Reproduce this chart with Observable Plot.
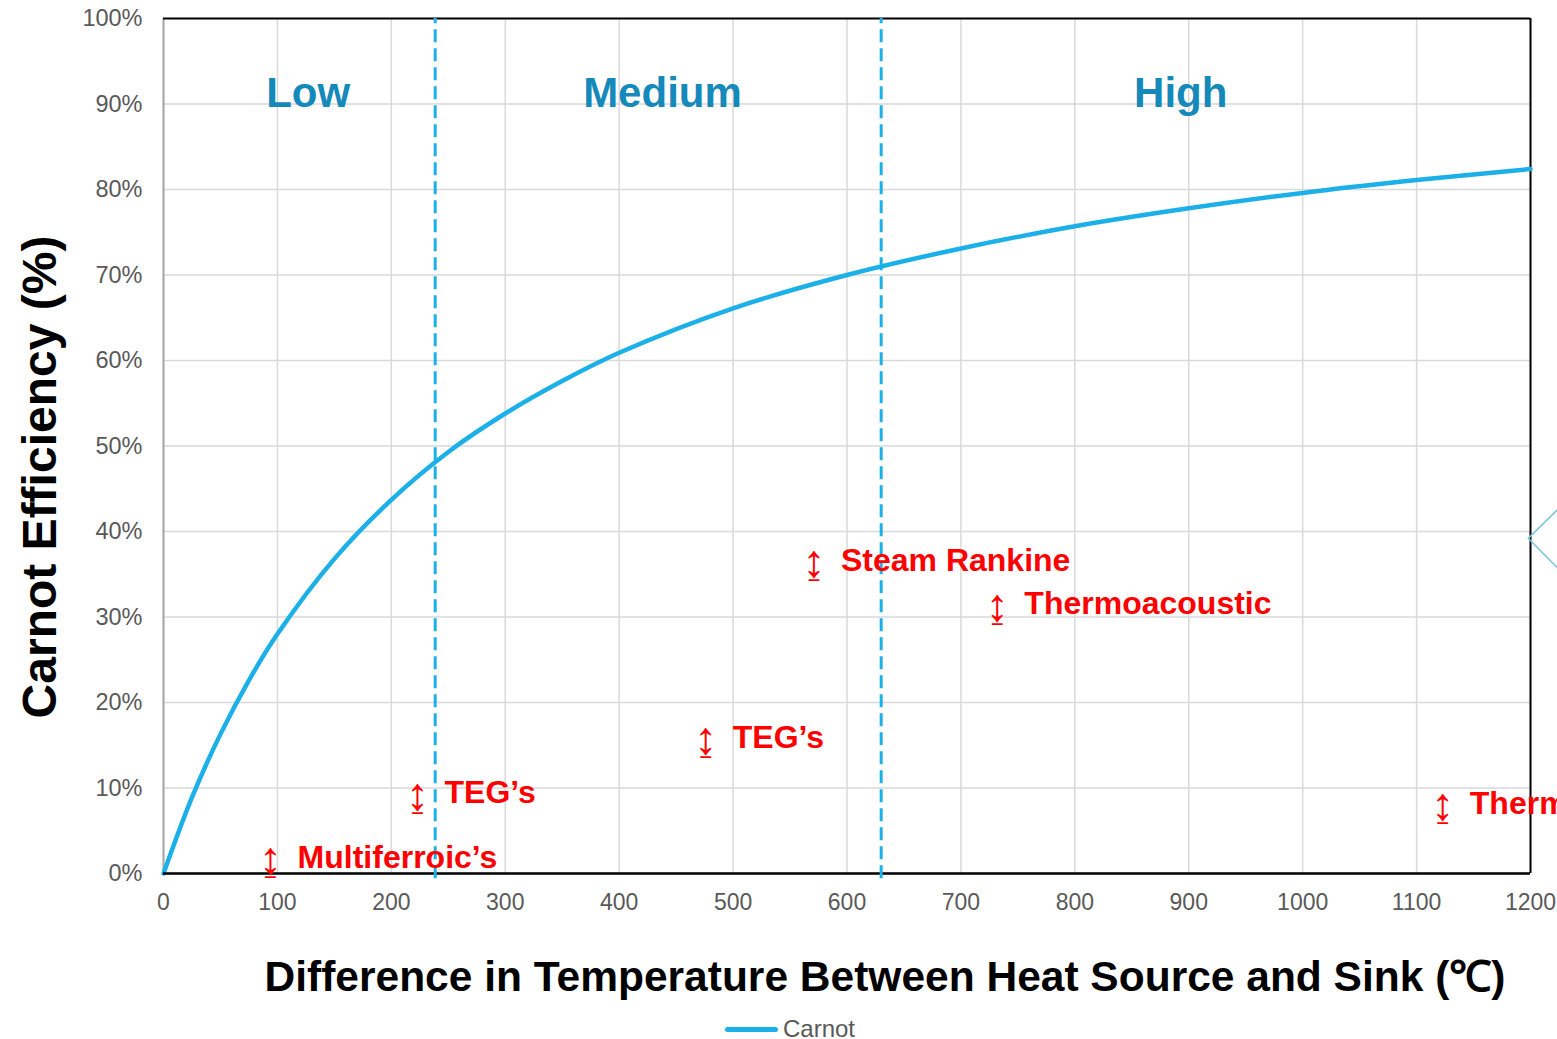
<!DOCTYPE html>
<html>
<head>
<meta charset="utf-8">
<script src="https://cdn.jsdelivr.net/npm/d3@7"></script>
<script src="https://cdn.jsdelivr.net/npm/@observablehq/plot@0.6"></script>
<style>
  html, body { margin: 0; padding: 0; background: #fff; }
  body { width: 1557px; height: 1039px; position: relative; overflow: hidden; font-family: "Liberation Sans", Arial, sans-serif; }
  #chart svg { display: block; overflow: hidden; }
  #legend { position: absolute; left: 725px; top: 1015px; display: flex; align-items: center; gap: 5px; font-size: 24px; color: #595959; }
  #legend .swatch { width: 53px; height: 5px; border-radius: 3px; background: #1CB0E8; }
</style>
</head>
<body>
<div id="chart"></div>
<div id="legend"><span class="swatch"></span><span>Carnot</span></div>
<script>
// Temperature difference (°C) and Carnot efficiency
const temps  = [0, 25, 50, 75, 100, 150, 200, 250, 300, 350, 400, 500, 600, 700, 800, 900, 1000, 1100, 1200];
const carnot = [0, 0.089, 0.163, 0.226, 0.28, 0.368, 0.437, 0.493, 0.538, 0.576, 0.609, 0.661, 0.70, 0.731, 0.757, 0.778, 0.796, 0.811, 0.824];

// Region boundaries
const boundaries = [238.5, 630];

// Region labels
const regionNames = ["Low", "Medium", "High"];
const regionX = [127, 438, 893];
const regionY = [0.912, 0.912, 0.912];

// Technology markers
const techNames = ["Multiferroic’s", "TEG’s", "TEG’s", "Steam Rankine", "Thermoacoustic", "Thermionic"];
const techX = [94, 223, 476, 571, 732, 1123];
const techY = [0.019, 0.094, 0.159, 0.366, 0.315, 0.082];

// Decorative chevron at right edge
const chevronX = [1224, 1198, 1224];
const chevronY = [0.426, 0.392, 0.357];

const xTicks = d3.range(0, 1201, 100);
const yTicks = d3.range(0, 1.001, 0.1);

const curve = temps.map((t, i) => ({t, e: carnot[i]}));
const regions = regionNames.map((n, i) => ({n, x: regionX[i], y: regionY[i]}));
const techs = techNames.map((n, i) => ({n, x: techX[i], y: techY[i]}));
const chevron = chevronX.map((x, i) => ({x, y: chevronY[i]}));

const plot = Plot.plot({
  width: 1557,
  height: 1005,
  marginLeft: 163,
  marginRight: 27,
  marginTop: 18,
  marginBottom: 132,
  style: {fontFamily: "Liberation Sans, Arial, sans-serif", background: "#fff", overflow: "hidden"},
  x: {domain: [0, 1200]},
  y: {domain: [0, 1]},
  marks: [
    Plot.gridX(xTicks, {stroke: "#d9d9d9", strokeOpacity: 1, strokeWidth: 1.5}),
    Plot.gridY(yTicks, {stroke: "#d9d9d9", strokeOpacity: 1, strokeWidth: 1.5}),
    Plot.axisX({ticks: xTicks, tickSize: 0, tickPadding: 20, fontSize: 23, fill: "#595959", label: null, tickFormat: d => String(d)}),
    Plot.axisY({ticks: yTicks, tickSize: 0, tickPadding: 21, fontSize: 23.5, fill: "#595959", label: null, tickFormat: d => Math.round(d * 100) + "%"}),
    Plot.ruleX([0], {stroke: "#a6a6a6", strokeWidth: 2}),
    Plot.ruleX([1200], {stroke: "#000", strokeWidth: 2}),
    Plot.ruleY([1], {stroke: "#000", strokeWidth: 2}),
    Plot.line(curve, {x: "t", y: "e", stroke: "#1CB0E8", strokeWidth: 4.5, curve: "catmull-rom"}),
    Plot.ruleY([0], {stroke: "#000", strokeWidth: 2.5}),
    Plot.ruleX(boundaries, {y1: -0.006, y2: 1, stroke: "#1CB0E8", strokeWidth: 3, strokeDasharray: "13,6"}),
    Plot.text(regions, {x: "x", y: "y", text: "n", fill: "#1489BA", fontSize: 42, fontWeight: "bold", textAnchor: "middle"}),
    Plot.text(techs, {x: "x", y: "y", text: () => "↨", fill: "#FF0000", fontSize: 46, fontFamily: "DejaVu Sans", fontWeight: 200, textAnchor: "middle", lineAnchor: "middle", dy: 2, clip: false}),
    Plot.text(techs, {x: "x", y: "y", text: "n", fill: "#FF0000", fontSize: 32, fontWeight: "bold", textAnchor: "start", lineAnchor: "middle", dx: 27, clip: false}),
    Plot.line(chevron, {x: "x", y: "y", stroke: "#7FC3DE", strokeWidth: 1.5, clip: false}),
    Plot.text(["Carnot Efficiency (%)"], {frameAnchor: "left", text: d => d, rotate: -90, textAnchor: "middle", lineAnchor: "middle", dx: -123, dy: 31, fontSize: 48, fontWeight: "bold", fill: "#000"}),
    Plot.text(["Difference in Temperature Between Heat Source and Sink (℃)"], {frameAnchor: "bottom", text: d => d, textAnchor: "middle", lineAnchor: "middle", dx: 38, dy: 104, fontSize: 42.5, fontWeight: "bold", fill: "#000"})
  ]
});
document.getElementById("chart").appendChild(plot);
</script>
</body>
</html>
